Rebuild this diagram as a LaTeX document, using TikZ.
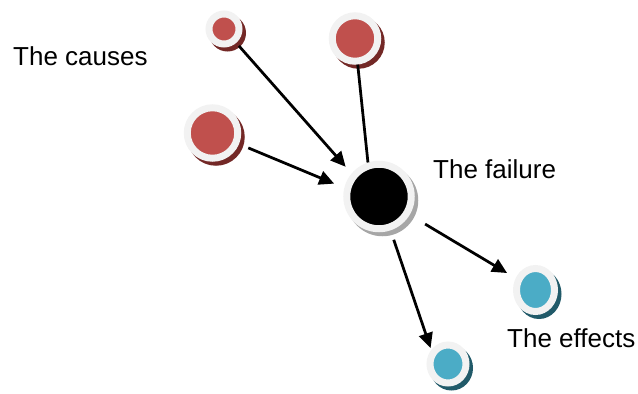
\documentclass[tikz,border=0pt]{standalone}
\usepackage{fontspec}
\setmainfont{Liberation Sans}
\usetikzlibrary{shapes.geometric,arrows.meta}

\definecolor{ring}{HTML}{F2F2F2}
\definecolor{causered}{HTML}{C0504D}
\definecolor{causeshadow}{HTML}{732826}
\definecolor{effectblue}{HTML}{4BACC6}
\definecolor{effectshadow}{HTML}{215A69}
\definecolor{failshadow}{HTML}{A6A6A6}

\tikzset{
  dot/.style={inner sep=0pt, draw=ring, line width=7pt},
  shadowed/.style={preaction={fill=#1, draw=#1, transform canvas={shift={(3.5pt,-4pt)}}}},
  causedot/.style={dot, circle, fill=causered, shadowed=causeshadow},
  faildot/.style={dot, circle, fill=black, shadowed=failshadow},
  effectdot/.style={dot, ellipse, fill=effectblue, shadowed=effectshadow},
  link/.style={line width=2.75pt, -{Triangle[length=15pt,width=14pt]}},
  lbl/.style={anchor=base west, inner sep=0pt, font=\fontsize{26}{31}\selectfont}
}

\begin{document}
\begin{tikzpicture}[x=1pt, y=-1pt]
\useasboundingbox (0,0) rectangle (638,394);

% The causes
\node[causedot, minimum size=30pt] (cause1) at (224,29) {};
\node[causedot, minimum size=45.5pt] (cause2) at (355,38.5) {};
\node[causedot, minimum size=50.5pt] (cause3) at (212.5,133) {};
\node[lbl] (causes) at (13,65) {The causes};

% The failure
\node[faildot, minimum size=64.5pt] (failure) at (379,196.5) {};
\node[lbl] (failtext) at (433,178) {The failure};

% The effects
\node[effectdot, minimum width=38pt, minimum height=43pt] (effect1) at (535.5,290) {};
\node[effectdot, minimum width=36pt, minimum height=38pt] (effect2) at (448,364) {};
\node[lbl] (effects) at (507,347) {The effects};

% Links
\draw[link, shorten <=4pt, shorten >=9pt] (cause1) -- (failure.140);
\draw[line width=2.75pt] (cause2) -- (failure.108);
\draw[link, shorten <=10pt, shorten >=11pt] (cause3) -- (failure.166);
\draw[link, shorten <=18pt, shorten >=10pt] (failure) -- (effect1);
\draw[link, shorten <=10pt, shorten >=2pt] (failure) -- (effect2.140);
\end{tikzpicture}
\end{document}
